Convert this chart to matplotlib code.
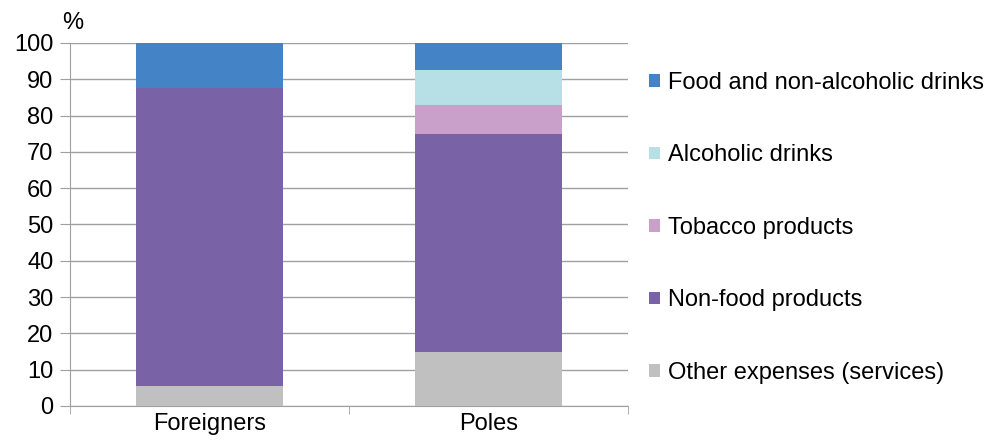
import matplotlib
matplotlib.use('Agg')
import matplotlib.pyplot as plt
from matplotlib.patches import Patch

plt.rcParams['font.family'] = ['Liberation Sans', 'DejaVu Sans']

groups = ['Foreigners', 'Poles']
series = ['Other expenses (services)', 'Non-food products', 'Tobacco products',
          'Alcoholic drinks', 'Food and non-alcoholic drinks']
other = [5.5, 15.0]
non_food = [82.0, 60.0]
tobacco = [0.0, 8.0]
alcohol = [0.0, 9.5]
food = [12.5, 7.5]
colors = ['#bfc0bf', '#7a62a6', '#c9a0c9', '#b7e0e6', '#4383c6']

values = [other, non_food, tobacco, alcohol, food]

fig = plt.figure(figsize=(9.89, 4.46), dpi=100)
ax = fig.add_axes([0.0708, 0.0897, 0.5642, 0.8139])

x = [0, 1]
bottom = [0.0, 0.0]
for vals, c in zip(values, colors):
    ax.bar(x, vals, width=0.53, bottom=bottom, color=c, edgecolor='none', zorder=3)
    bottom = [b + v for b, v in zip(bottom, vals)]

ax.set_xlim(-0.5, 1.5)
ax.set_ylim(0, 100)
ax.set_yticks(range(0, 101, 10))
ax.set_xticks(x)
ax.set_xticklabels(groups)
ax.set_xticks([-0.5, 0.5, 1.5], minor=True)
ax.tick_params(axis='x', which='major', length=0, labelsize=17, pad=5)
ax.tick_params(axis='x', which='minor', length=6, color='#a0a0a0')
ax.tick_params(axis='y', labelsize=17, length=7, color='#a0a0a0', pad=5)
ax.grid(axis='y', color='#a0a0a0', linewidth=1, zorder=0)
for s in ['top', 'right']:
    ax.spines[s].set_visible(False)
ax.spines['left'].set_color('#a0a0a0')
ax.spines['bottom'].set_color('#a0a0a0')
ax.text(-0.014, 1.025, '%', transform=ax.transAxes, fontsize=17, ha='left', va='bottom')

handles = [Patch(facecolor=c, edgecolor='none') for c in colors][::-1]
labels = series[::-1]
fig.legend(handles, labels, loc='upper left', bbox_to_anchor=(0.647, 0.86),
           frameon=False, fontsize=17, handlelength=0.45, handleheight=0.45,
           handletextpad=0.35, labelspacing=2.14, borderaxespad=0)

fig.savefig('out.png', dpi=100)
